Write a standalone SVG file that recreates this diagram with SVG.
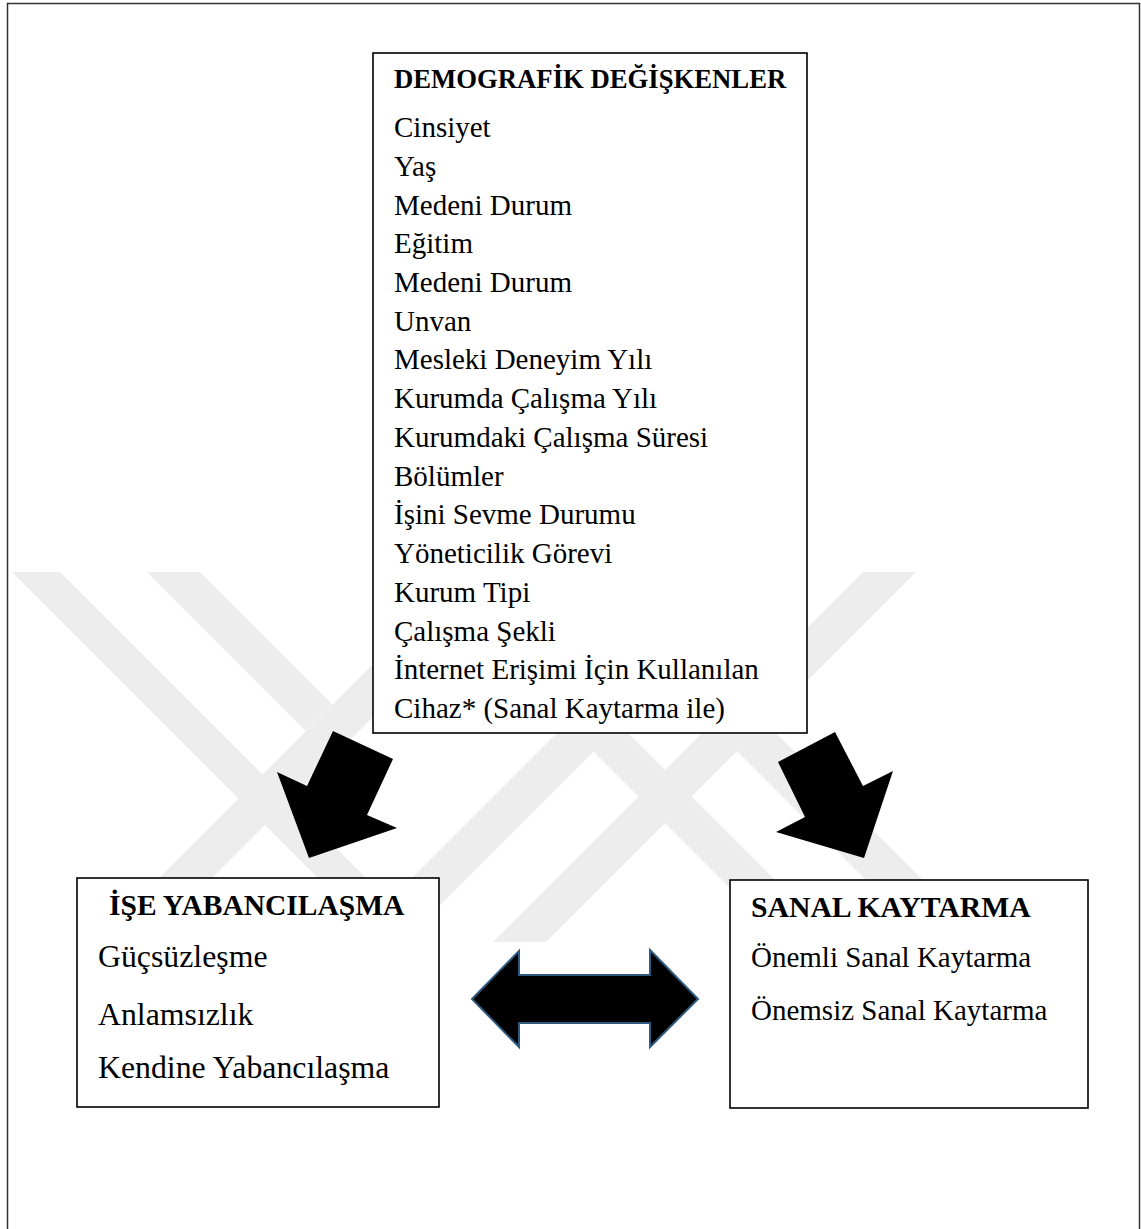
<svg xmlns="http://www.w3.org/2000/svg" width="1141" height="1229" viewBox="0 0 1141 1229">
<style>
.box{fill:#fff;stroke:#000;stroke-width:1.6}
.wm{fill:#ededed}
.t{font-family:"Liberation Serif","Times New Roman",serif;fill:#000}
.b{font-weight:bold}
.arr{fill:#000}
</style>
<rect x="0" y="0" width="1141" height="1229" fill="#fff"/>
<rect x="7.5" y="3.5" width="1132" height="1260" fill="none" stroke="#333" stroke-width="1.5"/>
<g id="watermark">
<polygon class="wm" points="12,572 60,572 430,942 382,942"/>
<polygon class="wm" points="147,572 200,572 332.5,704.5 306,731"/>
<polygon class="wm" points="465,572 518,572 148,942 95,942"/>
<polygon class="wm" points="718,572 773,572 403,942 348,942"/>
<polygon class="wm" points="414,572 467,572 837,942 784,942"/>
<polygon class="wm" points="863,572 916,572 546,942 493,942"/>
<polygon class="wm" points="558,572 615,572 985,942 928,942"/>
</g>
<g id="connectors">
<polygon id="arrow-left" class="arr" points="333,731 393,759 367,815 397,828 309,858 277,772 307,786"/>
<polygon id="arrow-right" class="arr" points="778,762 835,732 863,786 893,771 864,858 776,832 805,817"/>
<polygon id="arrow-double" class="arr" stroke="#2f5a80" stroke-width="2" stroke-linejoin="miter" points="472,999 519,951 519,975 650,975 650,950 698,999 650,1047 650,1023 519,1023 519,1047"/>
</g>
<g id="node-demografik">
<rect class="box" x="373" y="53" width="434" height="680"/>
<text class="t b" x="394" y="88" font-size="26.7">DEMOGRAFİK DEĞİŞKENLER</text>
<g class="t" font-size="29">
<text x="394" y="137">Cinsiyet</text>
<text x="394" y="175.7">Yaş</text>
<text x="394" y="214.5">Medeni Durum</text>
<text x="394" y="253.2">Eğitim</text>
<text x="394" y="291.9">Medeni Durum</text>
<text x="394" y="330.7">Unvan</text>
<text x="394" y="369.4">Mesleki Deneyim Yılı</text>
<text x="394" y="408.1">Kurumda Çalışma Yılı</text>
<text x="394" y="446.8">Kurumdaki Çalışma Süresi</text>
<text x="394" y="485.6">Bölümler</text>
<text x="394" y="524.3">İşini Sevme Durumu</text>
<text x="394" y="563">Yöneticilik Görevi</text>
<text x="394" y="601.8">Kurum Tipi</text>
<text x="394" y="640.5">Çalışma Şekli</text>
<text x="394" y="679.2">İnternet Erişimi İçin Kullanılan</text>
<text x="394" y="718">Cihaz* (Sanal Kaytarma ile)</text>
</g>
</g>
<g id="node-ise-yabancilasma">
<rect class="box" x="77" y="878" width="362" height="229"/>
<text class="t b" x="109" y="915" font-size="29.5">İŞE YABANCILAŞMA</text>
<g class="t" font-size="31.8">
<text x="98" y="967">Güçsüzleşme</text>
<text x="98" y="1025">Anlamsızlık</text>
<text x="98" y="1078">Kendine Yabancılaşma</text>
</g>
</g>
<g id="node-sanal-kaytarma">
<rect class="box" x="730" y="880" width="358" height="228"/>
<text class="t b" x="751" y="917" font-size="29.7">SANAL KAYTARMA</text>
<g class="t" font-size="29">
<text x="751" y="967">Önemli Sanal Kaytarma</text>
<text x="751" y="1020">Önemsiz Sanal Kaytarma</text>
</g>
</g>
</svg>
